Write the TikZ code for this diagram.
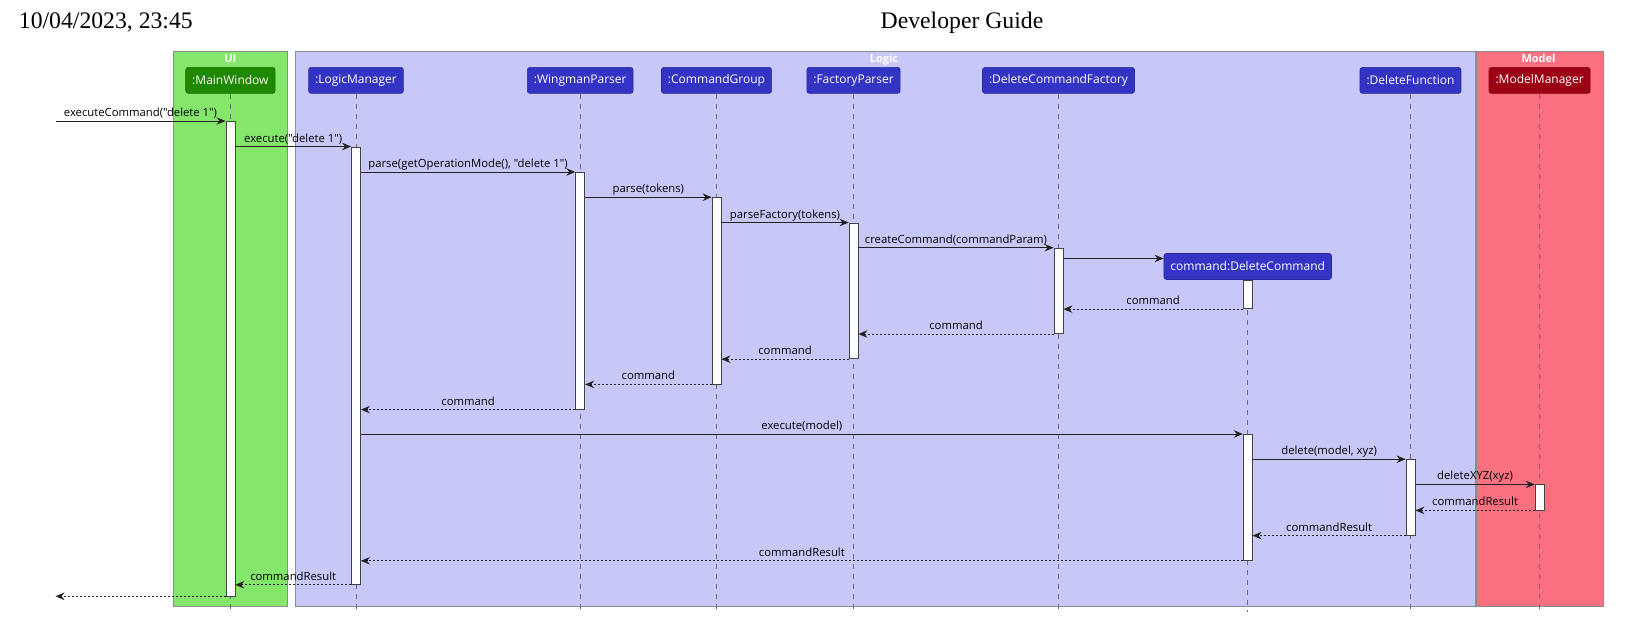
\documentclass[tikz,border=0pt]{standalone}
\usepackage{fontspec}
\setmainfont{Liberation Serif}
\newfontfamily\umlfont{Open Sans}
\usetikzlibrary{arrows.meta,positioning}
\definecolor{uigreen}{RGB}{132,230,107}
\definecolor{mwgreen}{RGB}{32,136,0}
\definecolor{logicblue}{RGB}{200,200,248}
\definecolor{partblue}{RGB}{51,51,196}
\definecolor{modelred}{RGB}{249,113,129}
\definecolor{mmred}{RGB}{155,0,20}
\definecolor{framegray}{RGB}{140,140,140}
\definecolor{inkgray}{RGB}{34,34,34}
\begin{document}
\begin{tikzpicture}[x=1pt,y=-1pt,->,>={Stealth[length=9pt,width=7.5pt,inset=3pt]},line width=0.9pt]
  \tikzstyle{frame}=[-,draw=framegray,line width=0.8pt]
  \tikzstyle{framelabel}=[anchor=base,inner sep=0pt,text=white,font=\umlfont\bfseries\fontsize{11}{13}\selectfont]
  \tikzstyle{part}=[rectangle,rounded corners=2.5pt,fill=partblue,draw=partblue!80!black,line width=0.6pt,text=white,font=\umlfont\fontsize{12}{14}\selectfont,inner xsep=6.5pt,minimum height=26pt]
  \tikzstyle{lifeline}=[-,draw=gray!85!black,dash pattern=on 5pt off 5pt,line width=0.7pt]
  \tikzstyle{actbar}=[rectangle,draw=inkgray!85,fill=white,minimum width=9pt,inner sep=0pt,anchor=north,line width=0.8pt]
  \tikzstyle{call}=[->,draw=inkgray]
  \tikzstyle{ret}=[->,draw=inkgray,dash pattern=on 2pt off 2pt]
  \tikzstyle{msg}=[midway,anchor=base,yshift=4.5pt,inner sep=0pt,text=black,font=\umlfont\fontsize{11.3}{13}\selectfont]

  \useasboundingbox (0,0) rectangle (1647,643);

  \node[anchor=base west,inner sep=0pt,font=\fontsize{23.7}{28}\selectfont] (date) at (18.5,28.5) {10/04/2023, 23:45};
  \node[anchor=base,inner sep=0pt,font=\fontsize{23.7}{28}\selectfont] (title) at (962,28.5) {Developer Guide};

  \draw[frame,fill=uigreen] (173.4,51.5) rectangle (287.4,606);
  \draw[frame,fill=logicblue] (295.3,51.5) rectangle (1475,606);
  \draw[frame,fill=modelred] (1476.4,51.5) rectangle (1603,606);
  \node[framelabel] (uiLabel) at (230.4,62.3) {UI};
  \node[framelabel] (logicLabel) at (884,62.3) {Logic};
  \node[framelabel] (modelLabel) at (1538.5,62.3) {Model};

  \coordinate (ext) at (55.5,0);
  \coordinate (bot) at (0,612);
  \coordinate (create) at (0,258.5);

  \node[part,fill=mwgreen,draw=mwgreen!80!black] (mw) at (230.4,80.4) {:MainWindow};
  \node[part] (lm)  at (356,80.4)    {:LogicManager};
  \node[part] (wp)  at (580.2,80.4)  {:WingmanParser};
  \node[part] (cg)  at (716.5,80.4)  {:CommandGroup};
  \node[part] (fp)  at (853.5,80.4)  {:FactoryParser};
  \node[part] (dcf) at (1058.5,80.4) {:DeleteCommandFactory};
  \node[part] (df)  at (1410.5,80.4) {:DeleteFunction};
  \node[part,fill=mmred,draw=mmred!80!black] (mm) at (1539.6,80.4) {:ModelManager};
  \node[part] (dc)  at (1247.7,266.5) {command:DeleteCommand};

  \foreach \p in {mw,lm,wp,cg,fp,dcf,df,mm,dc}
    \draw[lifeline] (\p.south) -- (\p.south |- bot);

  \node[actbar,minimum height=474.5pt] (mwBar)  at (230.4,121)   {};
  \node[actbar,minimum height=437.5pt] (lmBar)  at (356,146.5)   {};
  \node[actbar,minimum height=236.8pt] (wpBar)  at (580.2,172)   {};
  \node[actbar,minimum height=186.4pt] (cgBar)  at (716.5,197.2) {};
  \node[actbar,minimum height=135.9pt] (fpBar)  at (853.5,222.5) {};
  \node[actbar,minimum height=85.5pt]  (dcfBar) at (1058.5,247.7) {};
  \node[actbar,minimum height=28.5pt]  (dcBarA) at (dc.south)     {};
  \node[actbar,minimum height=126pt]   (dcBarB) at (1247.7,434)  {};
  \node[actbar,minimum height=75.6pt]  (dfBar)  at (1410.5,459.2) {};
  \node[actbar,minimum height=25.2pt]  (mmBar)  at (1539.6,484.4) {};

  \path
  (ext |- mwBar.north) edge[call] node[msg] {executeCommand("delete 1")} (mwBar.north west)
  (mwBar.east |- lmBar.north) edge[call] node[msg] {execute("delete 1")} (lmBar.north west)
  (lmBar.east |- wpBar.north) edge[call] node[msg] {parse(getOperationMode(), "delete 1")} (wpBar.north west)
  (wpBar.east |- cgBar.north) edge[call] node[msg] {parse(tokens)} (cgBar.north west)
  (cgBar.east |- fpBar.north) edge[call] node[msg] {parseFactory(tokens)} (fpBar.north west)
  (fpBar.east |- dcfBar.north) edge[call] node[msg] {createCommand(commandParam)} (dcfBar.north west)
  (dcfBar.east |- create) edge[call] (dc.west |- create)
  (dcBarA.south west) edge[ret] node[msg] {command} (dcfBar.east |- dcBarA.south)
  (dcfBar.south west) edge[ret] node[msg] {command} (fpBar.east |- dcfBar.south)
  (fpBar.south west) edge[ret] node[msg] {command} (cgBar.east |- fpBar.south)
  (cgBar.south west) edge[ret] node[msg] {command} (wpBar.east |- cgBar.south)
  (wpBar.south west) edge[ret] node[msg] {command} (lmBar.east |- wpBar.south)
  (lmBar.east |- dcBarB.north) edge[call] node[msg] {execute(model)} (dcBarB.north west)
  (dcBarB.east |- dfBar.north) edge[call] node[msg] {delete(model, xyz)} (dfBar.north west)
  (dfBar.east |- mmBar.north) edge[call] node[msg] {deleteXYZ(xyz)} (mmBar.north west)
  (mmBar.south west) edge[ret] node[msg] {commandResult} (dfBar.east |- mmBar.south)
  (dfBar.south west) edge[ret] node[msg] {commandResult} (dcBarB.east |- dfBar.south)
  (dcBarB.south west) edge[ret] node[msg] {commandResult} (lmBar.east |- dcBarB.south)
  (lmBar.south west) edge[ret] node[msg] {commandResult} (mwBar.east |- lmBar.south)
  (mwBar.south west) edge[ret] (ext |- mwBar.south);
\end{tikzpicture}
\end{document}
